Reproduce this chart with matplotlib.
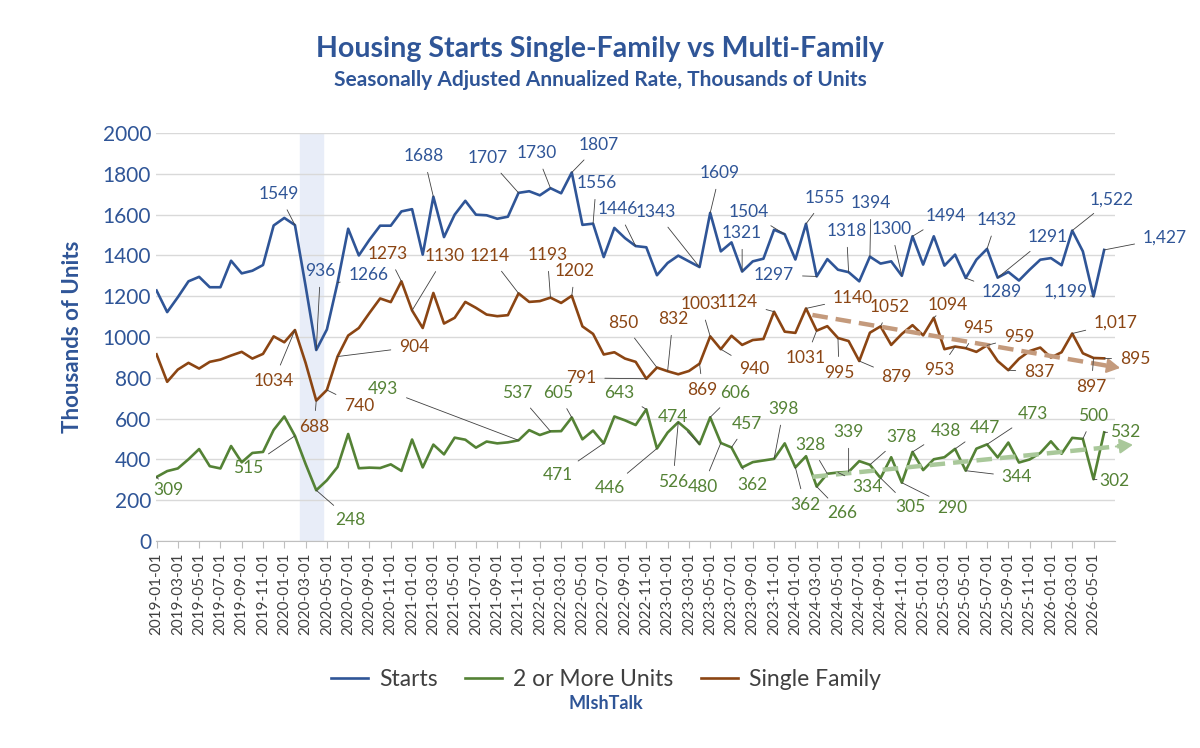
import numpy as np
import pandas as pd
import matplotlib
matplotlib.use("Agg")
import matplotlib.pyplot as plt

plt.rcParams['font.family'] = ['Lato', 'DejaVu Sans']

# monthly, 2019-01 .. 2026-06, thousands of units (SAAR)
months = pd.date_range('2019-01-01', '2026-06-01', freq='MS')

starts = [1228, 1122, 1195, 1273, 1295, 1244, 1244, 1374, 1312, 1325, 1353, 1547,
          1584, 1549, 1250, 936, 1037, 1266, 1531, 1400, 1477, 1546, 1546, 1616,
          1627, 1404, 1688, 1490, 1600, 1668, 1600, 1597, 1580, 1590, 1707, 1715,
          1695, 1730, 1705, 1807, 1550, 1556, 1392, 1535, 1485, 1446, 1440, 1303,
          1363, 1399, 1371, 1343, 1609, 1420, 1464, 1321, 1371, 1384, 1526, 1504,
          1380, 1555, 1297, 1382, 1330, 1318, 1273, 1394, 1360, 1371, 1300, 1494,
          1355, 1494, 1350, 1404, 1289, 1379, 1432, 1291, 1319, 1277, 1330, 1379,
          1387, 1352, 1522, 1420, 1199, 1427]

single = [915, 780, 840, 873, 845, 878, 889, 909, 927, 894, 917, 1003,
          974, 1034, 873, 688, 740, 904, 1007, 1044, 1118, 1189, 1171, 1273,
          1130, 1044, 1216, 1066, 1094, 1172, 1143, 1110, 1102, 1107, 1214, 1172,
          1176, 1193, 1167, 1202, 1052, 1015, 914, 925, 894, 878, 795, 850,
          832, 817, 833, 869, 1003, 940, 1006, 961, 985, 990, 1124, 1026,
          1020, 1140, 1031, 1053, 995, 980, 882, 1021, 1052, 961, 1015, 1058,
          1008, 1094, 940, 953, 945, 927, 959, 882, 837, 893, 931, 948,
          899, 925, 1017, 920, 897, 895]

# 2 or more units = total starts minus single family
multi = [s - f for s, f in zip(starts, single)]

# data labels: (series, month index, text, text x index, text y value)
labels = [
    ('s', 13, '1549', 11.5, 1701), ('s', 15, '936', 15.4, 1324), ('s', 17, '1266', 19.9, 1304),
    ('s', 26, '1688', 25.1, 1887), ('s', 34, '1707', 31.1, 1877), ('s', 37, '1730', 35.7, 1902),
    ('s', 39, '1807', 41.5, 1941), ('s', 41, '1556', 41.3, 1755), ('s', 45, '1446', 43.3, 1627),
    ('s', 51, '1343', 46.9, 1613), ('s', 52, '1609', 52.9, 1804), ('s', 55, '1321', 55.0, 1510),
    ('s', 59, '1504', 55.6, 1613), ('s', 62, '1297', 58.0, 1304), ('s', 61, '1555', 62.8, 1681),
    ('s', 67, '1394', 67.1, 1657), ('s', 65, '1318', 64.8, 1520), ('s', 70, '1300', 69.0, 1529),
    ('s', 71, '1494', 74.1, 1593), ('s', 78, '1432', 78.9, 1574), ('s', 79, '1291', 83.7, 1490),
    ('s', 76, '1289', 79.4, 1221), ('s', 88, '1,199', 85.4, 1221), ('s', 86, '1,522', 89.7, 1676),
    ('s', 89, '1,427', 94.7, 1485),
    ('f', 13, '1034', 11.0, 784), ('f', 15, '688', 14.8, 559), ('f', 16, '740', 19.0, 662),
    ('f', 17, '904', 24.2, 951), ('f', 23, '1273', 21.7, 1407), ('f', 24, '1130', 27.1, 1397),
    ('f', 34, '1214', 31.3, 1397), ('f', 37, '1193', 36.7, 1402), ('f', 39, '1202', 39.3, 1324),
    ('f', 47, '850', 43.8, 1069), ('f', 48, '832', 48.5, 1088), ('f', 46, '791', 39.9, 799),
    ('f', 51, '869', 51.3, 740), ('f', 52, '1003', 51.1, 1162), ('f', 53, '940', 56.1, 843),
    ('f', 58, '1124', 54.6, 1172), ('f', 61, '1140', 65.4, 1191), ('f', 62, '1031', 61.0, 897),
    ('f', 64, '995', 64.1, 824), ('f', 66, '879', 69.5, 804), ('f', 68, '1052', 68.9, 1147),
    ('f', 73, '1094', 74.3, 1157), ('f', 75, '953', 73.5, 838), ('f', 76, '945', 77.2, 1044),
    ('f', 78, '959', 81.0, 1000), ('f', 80, '837', 82.9, 828), ('f', 86, '1,017', 90.1, 1069),
    ('f', 88, '897', 87.8, 755), ('f', 89, '895', 91.9, 892),
    ('m', 0, '309', 1.1, 250), ('m', 13, '515', 8.6, 358), ('m', 15, '248', 18.2, 103),
    ('m', 34, '493', 21.3, 745), ('m', 37, '537', 33.9, 725), ('m', 39, '605', 37.7, 725),
    ('m', 42, '471', 37.7, 323), ('m', 46, '643', 43.5, 725), ('m', 47, '446', 42.6, 261),
    ('m', 51, '474', 48.5, 608), ('m', 49, '526', 48.5, 289), ('m', 52, '606', 54.3, 725),
    ('m', 53, '480', 51.3, 265), ('m', 54, '457', 55.5, 574), ('m', 55, '362', 56.0, 274),
    ('m', 58, '398', 58.9, 647), ('m', 60, '362', 60.9, 176), ('m', 63, '328', 61.4, 471),
    ('m', 62, '266', 64.4, 137), ('m', 65, '339', 65.0, 534), ('m', 64, '334', 66.8, 265),
    ('m', 67, '378', 70.0, 510), ('m', 68, '305', 70.8, 165), ('m', 70, '290', 74.7, 162),
    ('m', 71, '438', 74.1, 539), ('m', 75, '447', 77.8, 554), ('m', 78, '473', 82.3, 622),
    ('m', 76, '344', 80.8, 314), ('m', 87, '500', 88.0, 613), ('m', 88, '302', 90.0, 294),
    ('m', 89, '532', 91.0, 534),
]

# dashed trend arrows: (start index, start value, end index, end value, colour)
trends = [(61.6, 1108, 90.5, 848, '#c49a7c'), (61.6, 314, 91.7, 471, '#a9c89a')]

BLUE = '#2f5597'
GREEN = '#548235'
BROWN = '#8b4513'
series = {'s': (starts, BLUE), 'f': (single, BROWN), 'm': (multi, GREEN)}

fig = plt.figure(figsize=(12, 7.48), dpi=100)
ax = fig.add_axes([0.13, 0.277, 0.799, 0.545])

x = np.arange(len(months))
ax.axvspan(13.5, 15.6, color='#e8edf8', zorder=0)
ax.plot(x, starts, color=BLUE, lw=1.9, label='Starts', zorder=3)
ax.plot(x, multi, color=GREEN, lw=1.9, label='2 or More Units', zorder=3)
ax.plot(x, single, color=BROWN, lw=1.9, label='Single Family', zorder=3)

for x0, y0, x1, y1, col in trends:
    slope = (y1 - y0) / (x1 - x0)
    ax.plot([x0, x1 - 1.2], [y0, y1 - 1.2 * slope], color=col, lw=3.2,
            ls=(0, (3.5, 1.8)), zorder=4, solid_capstyle='butt', clip_on=False)
    ax.annotate('', xy=(x1, y1), xytext=(x1 - 1.6, y1 - 1.6 * slope),
                annotation_clip=False,
                arrowprops=dict(arrowstyle='-|>,head_length=0.8,head_width=0.45',
                                color=col, lw=1.5, shrinkA=0, shrinkB=0), zorder=4)

for key, i, txt, tx, ty in labels:
    vals, col = series[key]
    ax.annotate(txt, xy=(i, vals[i]), xytext=(tx, ty), ha='center', va='center',
                fontsize=12.5, color=col, annotation_clip=False, zorder=5,
                arrowprops=dict(arrowstyle='-', color='#404040', lw=0.6,
                                shrinkA=4, shrinkB=0))

ax.set_xlim(-0.05, 90)
ax.set_ylim(0, 2000)
ax.set_yticks(range(0, 2001, 200))
ax.tick_params(axis='y', labelsize=15, labelcolor=BLUE, length=0)
ax.set_xticks(x[::2])
ax.set_xticklabels([d.strftime('%Y-%m-%d') for d in months[::2]], rotation=90,
                   fontsize=11, color='#404040')
ax.tick_params(axis='x', color='#bfbfbf', length=5)
ax.grid(axis='y', color='#d9d9d9', lw=1)
ax.set_axisbelow(True)
for sp in ['top', 'right', 'left']:
    ax.spines[sp].set_visible(False)
ax.spines['bottom'].set_color('#bfbfbf')
ax.set_ylabel('Thousands of Units', fontsize=16, fontweight='bold', color=BLUE, labelpad=14)

fig.text(0.5, 0.935, 'Housing Starts Single-Family vs Multi-Family', ha='center', va='center',
         fontsize=20.5, fontweight='bold', color=BLUE)
fig.text(0.5, 0.893, 'Seasonally Adjusted Annualized Rate, Thousands of Units', ha='center',
         va='center', fontsize=15, fontweight='bold', color=BLUE)
leg = fig.legend(loc='center', bbox_to_anchor=(0.505, 0.091), ncol=3, frameon=False,
                 fontsize=16.5, handlelength=1.6, columnspacing=1.2, handletextpad=0.5)
for t in leg.get_texts():
    t.set_color('#404040')
fig.text(0.505, 0.06, 'MIshTalk', ha='center', va='center', fontsize=13,
         fontweight='bold', color=BLUE)

fig.savefig('out.png', dpi=100)
